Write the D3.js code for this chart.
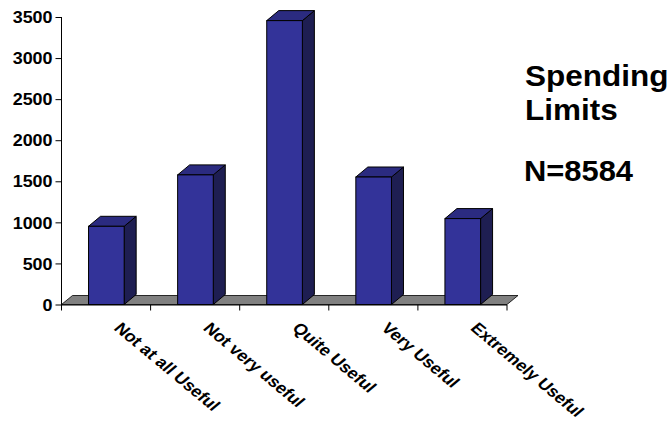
<!DOCTYPE html>
<html>
<head>
<meta charset="utf-8">
<script src="https://cdn.jsdelivr.net/npm/d3@7"></script>
<style>
  html, body { margin: 0; padding: 0; background: #fff; }
  svg { display: block; }
  text { font-family: "Liberation Sans", Arial, Helvetica, sans-serif; font-weight: bold; fill: #000; }
</style>
</head>
<body>
<svg id="chart" width="672" height="421"></svg>
<script>
// Responses by usefulness rating
const categories = ["Not at all Useful", "Not very useful", "Quite Useful", "Very Useful", "Extremely Useful"];
const counts = [952, 1578, 3456, 1552, 1046];
const yTicks = [0, 500, 1000, 1500, 2000, 2500, 3000, 3500];
const titleLines = ["Spending", "Limits"];
const sampleLabel = "N=8584";

const svg = d3.select("#chart");

const x = d3.scaleBand().domain(categories).range([61.5, 507]).paddingInner(0).paddingOuter(0);
const y = d3.scaleLinear().domain([0, 3500]).range([304.5, 17]);

const depth = { dx: 12, dy: -10 };
const floorDepth = { dx: 11, dy: -9 };
const barFrac = 0.4;
const colors = { front: "#333399", top: "#2b2b80", side: "#1e1e52", floor: "#808080" };

// Floor plane
const fx0 = x.range()[0], fx1 = x.range()[1], fy = y(0);
svg.append("polygon")
  .attr("points", [
    [fx0, fy], [fx1, fy], [fx1 + floorDepth.dx, fy + floorDepth.dy], [fx0 + floorDepth.dx, fy + floorDepth.dy]
  ].map(p => p.join(",")).join(" "))
  .attr("fill", colors.floor)
  .attr("stroke", "#000")
  .attr("stroke-width", 0.8);

// 3D columns
const bars = svg.append("g").selectAll("g.bar")
  .data(categories.map((c, i) => ({ c, v: counts[i] })))
  .join("g").attr("class", "bar");

bars.each(function(d) {
  const g = d3.select(this);
  const w = x.bandwidth() * barFrac;
  const x0 = x(d.c) + x.bandwidth() / 2 - w / 2 + 0.3;
  const x1 = x0 + w;
  const yt = y(d.v), yb = y(0);
  // side face
  g.append("polygon")
    .attr("points", [[x1, yb], [x1 + depth.dx, yb + depth.dy], [x1 + depth.dx, yt + depth.dy], [x1, yt]].map(p => p.join(",")).join(" "))
    .attr("fill", colors.side).attr("stroke", "#000").attr("stroke-width", 1).attr("stroke-linejoin", "round");
  // top face
  g.append("polygon")
    .attr("points", [[x0, yt], [x0 + depth.dx, yt + depth.dy], [x1 + depth.dx, yt + depth.dy], [x1, yt]].map(p => p.join(",")).join(" "))
    .attr("fill", colors.top).attr("stroke", "#000").attr("stroke-width", 1).attr("stroke-linejoin", "round");
  // front face
  g.append("rect")
    .attr("x", x0).attr("y", yt).attr("width", w).attr("height", yb - yt)
    .attr("fill", colors.front).attr("stroke", "#000").attr("stroke-width", 1);
});

// Value axis
const yAxis = svg.append("g")
  .attr("transform", "translate(61.5,0)")
  .call(d3.axisLeft(y).tickValues(yTicks).tickSize(6).tickFormat(d3.format("d")));
yAxis.select(".domain").attr("stroke", "#000").attr("d", `M0,${y(3500)}V${y(0) + 0.5}`);
yAxis.selectAll(".tick line").attr("stroke", "#000");
yAxis.selectAll(".tick text")
  .attr("x", null).attr("dy", null)
  .attr("transform", "translate(-9,5.7) scale(1.12,1)")
  .attr("text-anchor", "end")
  .style("font-size", "16px");

// Category axis: baseline with ticks at category boundaries
const bounds = categories.map(c => x(c)).concat([x.range()[1]]);
const xAxis = svg.append("g");
xAxis.append("line")
  .attr("x1", fx0).attr("x2", fx1).attr("y1", fy + 0.5).attr("y2", fy + 0.5)
  .attr("stroke", "#000").attr("stroke-width", 1);
xAxis.selectAll("line.tick").data(bounds).join("line")
  .attr("class", "tick")
  .attr("x1", d => d).attr("x2", d => d)
  .attr("y1", fy + 0.5).attr("y2", fy + 6)
  .attr("stroke", "#000").attr("stroke-width", 1);

// Slanted category labels
xAxis.selectAll("text.cat").data(categories).join("text")
  .attr("class", "cat")
  .attr("transform", d => `translate(${x(d) + x.bandwidth() / 2 + 7},329) scale(1.2,1) rotate(45)`)
  .style("font-size", "15.5px")
  .text(d => d);

// Title block
const title = svg.append("g");
title.selectAll("text.t").data(titleLines).join("text")
  .attr("class", "t")
  .attr("transform", (d, i) => `translate(525,${86 + i * 33.5}) scale(1.05,1)`)
  .style("font-size", "30px")
  .text(d => d);
title.append("text")
  .attr("transform", "translate(524,180.5) scale(1.03,1)")
  .style("font-size", "30px")
  .text(sampleLabel);
</script>
</body>
</html>
